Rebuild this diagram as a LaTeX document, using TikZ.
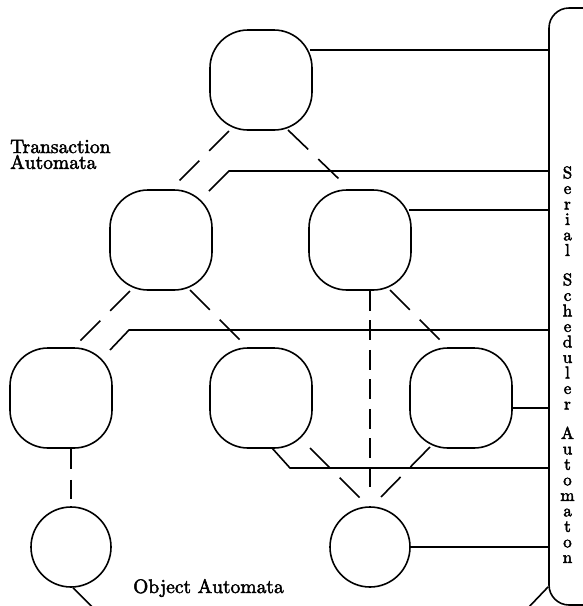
\documentclass[tikz,border=0pt]{standalone}
\usetikzlibrary{calc}
\font\labfont=cmr10 at 19.5pt
\font\schfont=cmr10 at 17pt
\newcommand\heavyink{\special{pdf:literal direct 2 Tr 0.45 w}}
\begin{document}
\begin{tikzpicture}[x=1pt,y=-1pt,
  tbox/.style={draw, line width=1.6pt, rounded corners=38pt, minimum width=102pt, minimum height=100pt, inner sep=0pt},
  obj/.style={draw, circle, line width=1.6pt, minimum size=80pt, inner sep=0pt},
  conn/.style={line width=1.6pt},
  ddash/.style={line width=1.6pt, dash pattern=on 28pt off 14pt},
  vdash/.style={line width=1.6pt, dash pattern=on 20pt off 9.5pt},
  sbar/.style={draw, line width=1.6pt, rounded corners=20pt, minimum width=56pt, minimum height=597pt, inner sep=0pt}
]
\useasboundingbox (0,0) rectangle (583,606);
\clip (0,0) rectangle (583,606);

% transaction automata
\node[tbox] (T0) at (261,80) {};
\node[tbox] (T1) at (161,240) {};
\node[tbox] (T2) at (360,240) {};
\node[tbox] (L3a) at (61,398) {};
\node[tbox] (L3b) at (261,398) {};
\node[tbox] (L3c) at (461,398) {};
% object automata
\node[obj] (O1) at (71,547) {};
\node[obj] (O2) at (370,547) {};
% serial scheduler
\node[sbar] (S) at (577,306.5) {};

% labels
\node[anchor=north west, align=left, inner sep=0pt, font={\labfont\heavyink\baselineskip=15.8pt\relax}] (TA) at (10,139.5) {Transaction\\Automata};
\node[anchor=base west, inner sep=0pt, font={\labfont\heavyink}] (OA) at (133,593) {Object Automata};
\node[anchor=north, align=center, inner sep=0pt, font={\schfont\heavyink\baselineskip=15.5pt\relax}] (SA) at (567.5,166.5)
  {S\\e\\r\\i\\a\\l\\[14pt]S\\c\\h\\e\\d\\u\\l\\e\\r\\[14pt]A\\u\\t\\o\\m\\a\\t\\o\\n};

% tree (dashed) connectors
\draw[ddash] ($(T0.center)+(-32,51)$) -- ($(T1.center)+(18,-59)$);
\draw[ddash] ($(T0.center)+(27,50)$) -- ($(T2.center)+(-20,-60)$);
\draw[ddash] ($(T1.center)+(-31,51)$) -- ($(L3a.center)+(19,-57)$);
\draw[ddash] ($(T1.center)+(29,50)$) -- ($(L3b.center)+(-21,-58)$);
\draw[ddash] ($(T2.center)+(30,50)$) -- ($(L3c.center)+(-21,-58)$);
\draw[ddash] ($(L3b.center)+(49,50)$) -- ($(O2.center)+(-10,-49)$);
\draw[ddash] ($(L3c.center)+(-31,49)$) -- ($(O2.center)+(10,-49)$);
\draw[vdash] (T2.south -| O2.center) -- ($(O2.center)+(0,-60)$);
\draw[vdash, dash pattern=on 20pt off 11pt] (L3a.south -| O1.center) -- ($(O1.center)+(0,-48)$);

% scheduler connectors
\coordinate (a0) at ($(T0.center)+(49,-30)$);
\draw[conn] (a0) -- (a0 -| S.west);
\coordinate (b1) at ($(T1.center)+(68,-69)$);
\coordinate (b2) at ($(T1.center)+(48,-49)$);
\draw[conn] (S.west |- b1) -- (b1) -- (b2);
\coordinate (a2) at ($(T2.center)+(49,-30)$);
\draw[conn] (a2) -- (a2 -| S.west);
\coordinate (c1) at ($(L3a.center)+(68,-68)$);
\coordinate (c2) at ($(L3a.center)+(49,-48)$);
\draw[conn] (S.west |- c1) -- (c1) -- (c2);
\coordinate (d1) at ($(L3c.center)+(51,10)$);
\draw[conn] (d1) -- (d1 -| S.west);
\coordinate (e1) at ($(L3b.center)+(29,70)$);
\coordinate (e2) at ($(L3b.center)+(11,50)$);
\draw[conn] (S.west |- e1) -- (e1) -- (e2);
\draw[conn] (O2.east) -- (O2.east -| S.west);
\coordinate (f1) at ($(O1.south)+(2,0)$);
\coordinate (f2) at ($(f1)+(21,21)$);
\coordinate (bb) at ($(S.south west)+(0,-19)$);
\coordinate (f3) at ($(bb)+(-21,21)$);
\draw[conn] (f1) -- (f2) -- (f2 -| f3) -- (bb);
\end{tikzpicture}
\end{document}
